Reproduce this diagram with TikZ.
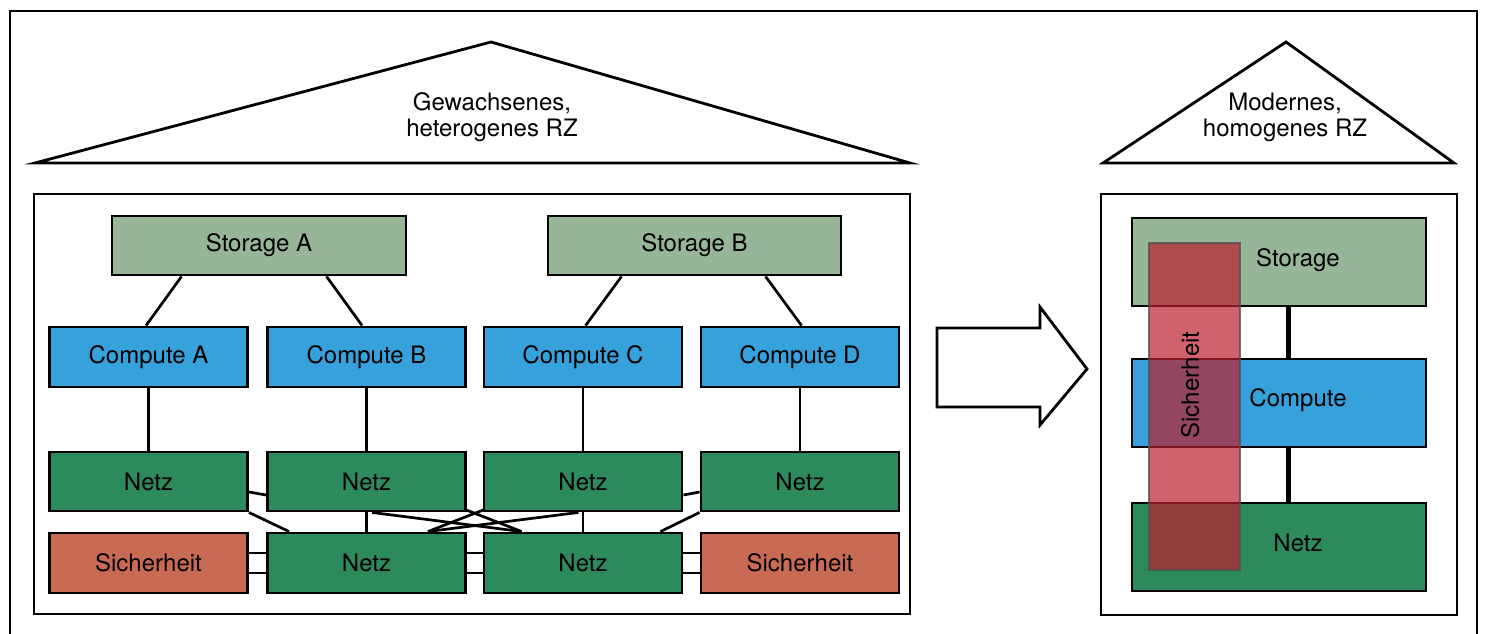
\documentclass[tikz,border=0pt]{standalone}
\usepackage{fontspec}
\setmainfont{TeX Gyre Heros}
\usetikzlibrary{calc,backgrounds}
\definecolor{stor}{RGB}{151,181,151}
\definecolor{comp}{RGB}{54,161,219}
\definecolor{netzc}{RGB}{45,138,93}
\definecolor{sich}{RGB}{201,106,85}
\definecolor{ovl}{RGB}{187,31,46}
\definecolor{ovlborder}{RGB}{80,80,80}
\begin{document}
\begin{tikzpicture}[x=1pt,y=-1pt,
  lbl/.style={font=\fontsize{24}{26}\selectfont, inner sep=0pt},
  box/.style={lbl, draw=black, line width=2.9pt, minimum width=198pt, minimum height=59pt},
  conn/.style={line width=2.7pt},
  thickconn/.style={line width=5pt},
  frame/.style={line width=2.8pt, line join=miter},
  overlay box/.style={draw=ovlborder, draw opacity=0.8, line width=2.2pt, fill=ovl, fill opacity=0.7, inner sep=0pt}]
\useasboundingbox (0,0) rectangle (1485,634);

% frames
\draw[frame] (10,640) -- (10,11) -- (1477,11) -- (1477,640);
\draw[frame] (34,194) rectangle (910,614);
\draw[frame] (1101,194) rectangle (1457,615);

% roofs
\draw[frame] (35,163) -- (491,42) -- (910,163) -- cycle;
\node[lbl, align=center] (roofL) at (492,117) {Gewachsenes,\\heterogenes RZ};
\draw[frame] (1103,163) -- (1286,42) -- (1454,163) -- cycle;
\node[lbl, align=center] (roofR) at (1285,117) {Modernes,\\homogenes RZ};

% arrow
\draw[frame, fill=white] (937,328) -- (1040,328) -- (1040,307) -- (1087,369) -- (1040,425) -- (1040,407) -- (937,407) -- cycle;

% left: storage
\node[box, fill=stor, minimum width=294pt] (sA) at (259,245.5) {Storage A};
\node[box, fill=stor, minimum width=293pt] (sB) at (694.5,245.5) {Storage B};
% compute
\node[box, fill=comp, minimum height=60pt] (cA) at (148.5,357) {Compute A};
\node[box, fill=comp, minimum height=60pt] (cB) at (366.5,357) {Compute B};
\node[box, fill=comp, minimum height=60pt] (cC) at (583,357) {Compute C};
\node[box, fill=comp, minimum height=60pt] (cD) at (800,357) {Compute D};
% netz row 1
\node[box, fill=netzc] (nA1) at (148.5,481.5) {Netz};
\node[box, fill=netzc] (nB1) at (366.5,481.5) {Netz};
\node[box, fill=netzc] (nC1) at (583,481.5) {Netz};
\node[box, fill=netzc] (nD1) at (800,481.5) {Netz};
% row 2
\node[box, fill=sich, minimum height=60pt] (sA2) at (148.5,563) {Sicherheit};
\node[box, fill=netzc, minimum height=60pt] (nB2) at (366.5,563) {Netz};
\node[box, fill=netzc, minimum height=60pt] (nC2) at (583,563) {Netz};
\node[box, fill=sich, minimum height=60pt] (sD2) at (800,563) {Sicherheit};

% right side
\node[box, fill=stor, minimum width=294pt, minimum height=88pt] (rS) at (1279,262) {};
\node[box, fill=comp, minimum width=294pt, minimum height=88pt] (rC) at (1279,403) {};
\node[box, fill=netzc, minimum width=294pt, minimum height=88pt] (rN) at (1279,547) {};
\node[lbl] (rSt) at (1298,260) {Storage};
\node[lbl] (rCt) at (1298,400) {Compute};
\node[lbl] (rNt) at (1298,543) {Netz};
\node[overlay box, minimum width=91pt, minimum height=327pt] (rSi) at (1194.5,406.5) {};
\node[lbl, rotate=90] (rSit) at (1190,385) {Sicherheit};

\begin{pgfonlayer}{background}
  % storage to compute
  \draw[conn] ($(sA.south west)+(71,0)$) -- ($(cA.north west)+(98,0)$);
  \draw[conn] ($(sA.south west)+(216,0)$) -- ($(cB.north west)+(96,0)$);
  \draw[conn] ($(sB.south west)+(75,0)$) -- ($(cC.north west)+(103,0)$);
  \draw[conn] ($(sB.south west)+(219,0)$) -- ($(cD.north west)+(102,0)$);
  % compute to netz
  \draw[conn] (cA) -- (nA1);
  \draw[conn] (cB) -- (nB1);
  \draw[conn] (cC) -- (nC1);
  \draw[conn] (cD) -- (nD1);
  % netz mesh
  \draw[conn] ([yshift=-10.5pt]nA1.east) -- ([yshift=-13.5pt]nB1.west);
  \draw[conn] ([yshift=-13.5pt]nC1.east) -- ([yshift=-10.5pt]nD1.west);
  \draw[conn] (nA1.south east) -- ($(nB2.north west)+(23,0)$);
  \draw[conn] (nD1.south west) -- ($(nC2.north east)+(-23,0)$);
  \draw[conn] (nB1) -- (nB2);
  \draw[conn] (nC1) -- (nC2);
  \draw[conn] ($(nB1.south west)+(106,0)$) -- ($(nC2.north west)+(39,0)$);
  \draw[conn] ($(nC1.south east)+(-105,0)$) -- ($(nB2.north east)+(-39,0)$);
  \draw[conn] ($(nB2.north east)+(-39,0)$) -- ($(nC1.south west)+(11,-6.5)$);
  \draw[conn] ($(nC2.north west)+(39,0)$) -- ($(nB1.south east)+(-11,-6.5)$);
  % row 2 double links
  \draw[conn] ([yshift=10pt]sA2.east) -- ([yshift=10pt]nB2.west);
  \draw[conn] ([yshift=-10pt]sA2.east) -- ([yshift=-10pt]nB2.west);
  \draw[conn] ([yshift=10pt]nB2.east) -- ([yshift=10pt]nC2.west);
  \draw[conn] ([yshift=-10pt]nB2.east) -- ([yshift=-10pt]nC2.west);
  \draw[conn] ([yshift=10pt]nC2.east) -- ([yshift=10pt]sD2.west);
  \draw[conn] ([yshift=-10pt]nC2.east) -- ([yshift=-10pt]sD2.west);
  % right connectors
  \draw[thickconn] ($(rS.south)+(9,0)$) -- ($(rC.north)+(9,0)$);
  \draw[thickconn] ($(rC.south)+(9,0)$) -- ($(rN.north)+(9,0)$);
\end{pgfonlayer}
\end{tikzpicture}
\end{document}
